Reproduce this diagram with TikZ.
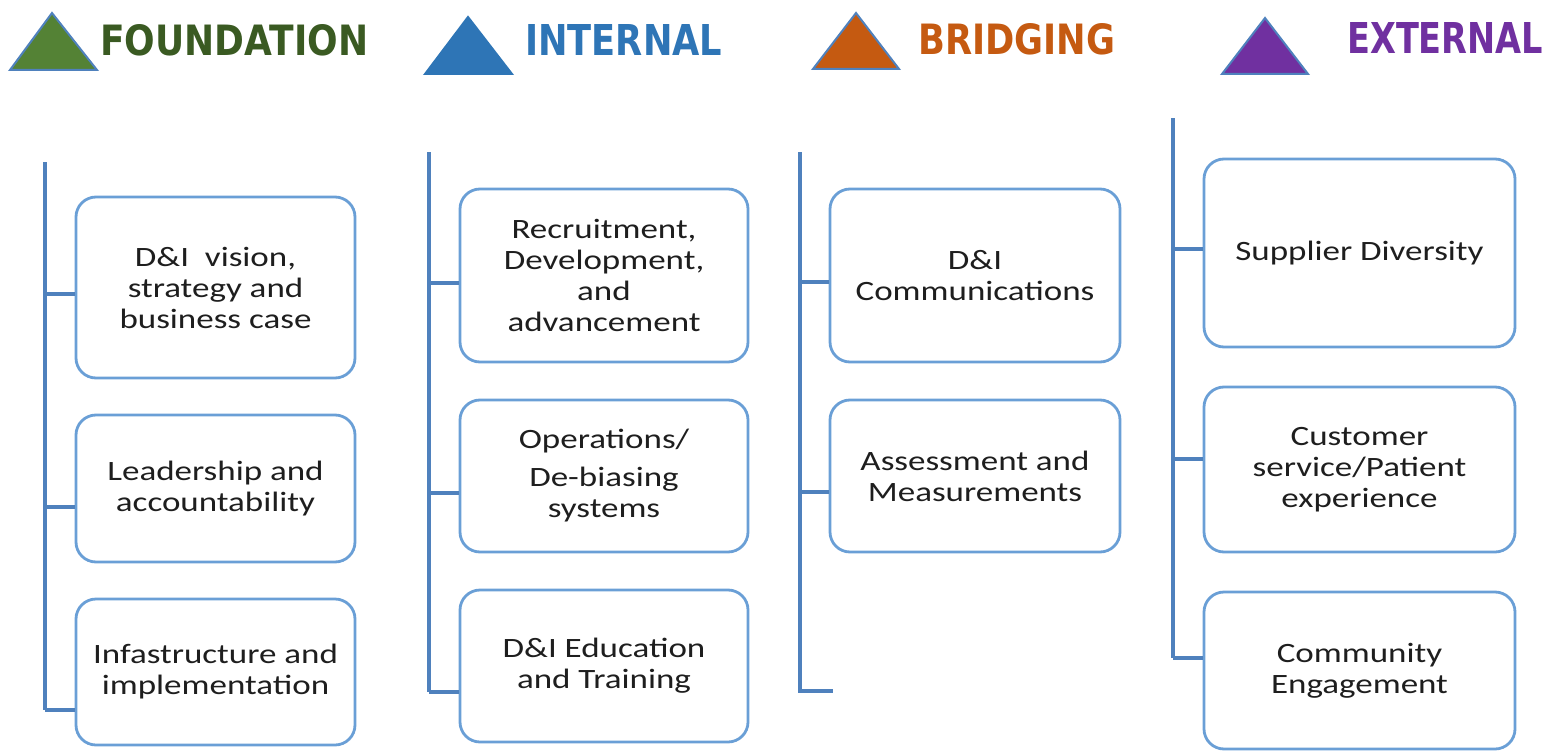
\documentclass[tikz,border=0pt]{standalone}
\usepackage{fontspec}
\usepackage{graphicx}
\newfontfamily\boxfont[FakeStretch=1.25]{Carlito}
\newfontfamily\headfont{DejaVu Sans}
\usetikzlibrary{positioning}
\definecolor{trunkblue}{HTML}{4F81BD}
\definecolor{boxblue}{HTML}{6A9FD6}
\definecolor{boxtext}{HTML}{1E1E1E}
\definecolor{foundgreen}{HTML}{548235}
\definecolor{foundtext}{HTML}{3A5A22}
\definecolor{intblue}{HTML}{2E75B6}
\definecolor{bridgeorange}{HTML}{C55A11}
\definecolor{extpurple}{HTML}{7030A0}
\newcommand{\headword}[2]{\resizebox{#1pt}{31pt}{\headfont\bfseries #2}}

\begin{document}
\begin{tikzpicture}[
		x=1pt, y=-1pt,
		MyBox/.style={draw=boxblue, line width=2.8pt, rounded corners=20pt, fill=white,
			align=center, text=boxtext, inner sep=0pt,
			font=\boxfont\fontsize{28}{31}\selectfont},
		FoundBox/.style={MyBox, minimum width=279pt},
		IntBox/.style={MyBox, minimum width=288pt},
		BridgeBox/.style={MyBox, minimum width=290pt},
		ExtBox/.style={MyBox, minimum width=311pt},
		Trunk/.style={draw=trunkblue, line width=3.5pt},
		Banner/.style={anchor=base west, inner sep=0pt},
		Pyramid/.style={draw=trunkblue, line width=2pt, line join=miter}
		]

		\useasboundingbox (0,0) rectangle (1555,752);

		% headings with their triangles
		\fill[Pyramid, fill=foundgreen] (10,70) -- (52,13) -- (97,70) -- cycle;
		\node[Banner, text=foundtext] (hfound) at (100,56) {\headword{268}{FOUNDATION}};

		\fill[Pyramid, draw=intblue, fill=intblue] (425,74) -- (468,17) -- (512,74) -- cycle;
		\node[Banner, text=intblue] (hint) at (525,56) {\headword{197}{INTERNAL}};

		\fill[Pyramid, fill=bridgeorange] (813,69) -- (856,13) -- (899,69) -- cycle;
		\node[Banner, text=bridgeorange] (hbridge) at (918,55) {\headword{197}{BRIDGING}};

		\fill[Pyramid, fill=extpurple] (1222,74) -- (1265,18) -- (1308,74) -- cycle;
		\node[Banner, text=extpurple] (hext) at (1347,53) {\headword{196}{EXTERNAL}};

		% foundation column
		\node[FoundBox, minimum height=181pt] (f1) at (215.5,287.5) {D\&I\ \ vision,\\ strategy and\\ business case};
		\node[FoundBox, minimum height=147pt] (f2) at (215.5,488.5) {Leadership and\\ accountability};
		\node[FoundBox, minimum height=146pt] (f3) at (215.5,672) {Infastructure and\\ implementation};

		\coordinate (ftop) at (45,162);
		\coordinate (fa) at (45,294);
		\coordinate (fb) at (45,507);
		\coordinate (fc) at (45,710);
		\draw[Trunk] (ftop) -- (fc);
		\draw[Trunk] (fa) -- (fa -| f1.west);
		\draw[Trunk] (fb) -- (fb -| f2.west);
		\draw[Trunk] (fc) -- (fc -| f3.west);

		% internal column
		\node[IntBox, minimum height=173pt] (i1) at (604,275.5) {Recruitment,\\ Development,\\ and\\ advancement};
		\node[IntBox, minimum height=152pt] (i2) at (604,476) {Operations/\\[7pt] De-biasing\\ systems};
		\node[IntBox, minimum height=152pt] (i3) at (604,666) {D\&I Education\\ and Training};

		\coordinate (itop) at (429,152);
		\coordinate (ia) at (429,283);
		\coordinate (ib) at (429,493);
		\coordinate (ic) at (429,692);
		\draw[Trunk] (itop) -- (ic);
		\draw[Trunk] (ia) -- (ia -| i1.west);
		\draw[Trunk] (ib) -- (ib -| i2.west);
		\draw[Trunk] (ic) -- (ic -| i3.west);

		% bridging column
		\node[BridgeBox, minimum height=173pt] (b1) at (975,275.5) {D\&I\\ Communications};
		\node[BridgeBox, minimum height=152pt] (b2) at (975,476) {Assessment and\\ Measurements};

		\coordinate (btop) at (800,152);
		\coordinate (ba) at (800,282);
		\coordinate (bb) at (800,492);
		\coordinate (bend) at (833,691);
		\draw[Trunk] (btop) |- (bend);
		\draw[Trunk] (ba) -- (ba -| b1.west);
		\draw[Trunk] (bb) -- (bb -| b2.west);

		% external column
		\node[ExtBox, minimum height=188pt] (e1) at (1359.5,253) {Supplier Diversity};
		\node[ExtBox, minimum height=165pt] (e2) at (1359.5,469.5) {Customer\\ service/Patient\\ experience};
		\node[ExtBox, minimum height=157pt] (e3) at (1359.5,670.5) {Community\\ Engagement};

		\coordinate (etop) at (1173,118);
		\coordinate (ea) at (1173,249);
		\coordinate (eb) at (1173,459);
		\coordinate (ec) at (1173,658);
		\draw[Trunk] (etop) -- (ec);
		\draw[Trunk] (ea) -- (ea -| e1.west);
		\draw[Trunk] (eb) -- (eb -| e2.west);
		\draw[Trunk] (ec) -- (ec -| e3.west);

\end{tikzpicture}
\end{document}
